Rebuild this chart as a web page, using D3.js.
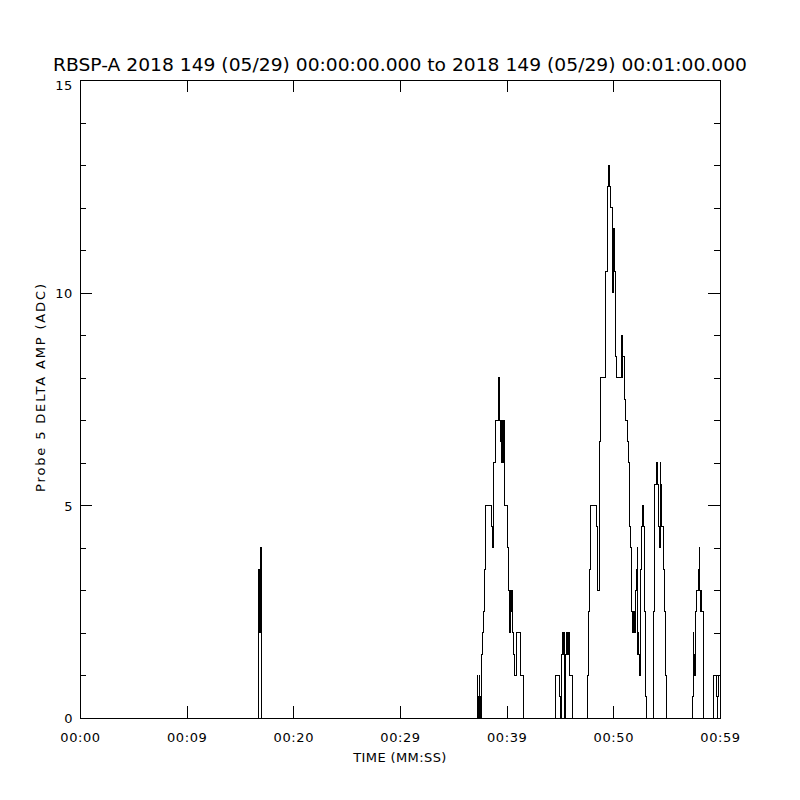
<!DOCTYPE html>
<html>
<head>
<meta charset="utf-8">
<script src="https://cdn.jsdelivr.net/npm/d3@7"></script>
<style>
  html, body { margin: 0; padding: 0; background: #fff; }
  text { font-family: "DejaVu Sans", sans-serif; fill: #000; }
</style>
</head>
<body>
<script>
// ********************************** //
// ** Data
// ********************************** //
const titleText = "RBSP-A 2018 149 (05/29) 00:00:00.000 to 2018 149 (05/29) 00:01:00.000";
const xLabelText = "TIME (MM:SS)";
const yLabelText = "Probe 5 DELTA AMP (ADC)";

// x ticks every 10 s, labels as printed on the plot
const xTickSeconds = [0, 10, 20, 30, 40, 50, 60];
const xTickLabels = ["00:00", "00:09", "00:20", "00:29", "00:39", "00:50", "00:59"];
const yMajorTicks = [0, 5, 10, 15];

// step series: seconds after 00:00:00 where the value changes, and the new value
const stepTimes = [
  0,
  16.69, 16.75, 16.78, 16.81, 16.85, 16.88, 16.90, 16.94, 16.97, 17.00,
  37.25, 37.28, 37.31, 37.34, 37.38, 37.41, 37.44, 37.47, 37.50, 37.53, 37.56, 37.59, 37.62, 37.66,
  37.75, 37.81, 37.90, 38.03, 38.60, 38.63, 38.65, 38.69, 38.75, 38.97,
  39.25, 39.28, 39.31, 39.34, 39.38, 39.40, 39.44, 39.47, 39.50, 39.53, 39.56, 39.59, 39.63, 39.66,
  39.69, 39.72, 39.75, 39.78, 39.84, 40.06, 40.19, 40.31, 40.38, 40.41, 40.44, 40.47, 40.50, 40.53,
  40.56, 40.62, 40.72, 40.94, 41.32, 41.56,
  44.56, 44.93, 45.00, 45.03, 45.06, 45.12, 45.22, 45.25, 45.28, 45.31, 45.34, 45.38, 45.40, 45.44,
  45.47, 45.63, 45.66, 45.69, 45.72, 45.75, 45.78, 45.81, 45.87, 46.19,
  47.60, 47.69, 47.81, 47.88, 48.44, 48.50, 48.69, 48.78, 49.22, 49.31, 49.43, 49.53, 49.62, 49.69,
  49.90, 49.94, 49.97, 50.00, 50.03, 50.06, 50.09, 50.13, 50.18, 50.25, 50.78, 50.81, 50.84, 50.88,
  51.00, 51.12, 51.31, 51.40, 51.50, 51.63, 51.72, 51.75, 51.78, 51.81, 51.84, 51.87, 51.91, 51.94,
  51.97, 52.00, 52.06, 52.13, 52.15, 52.19, 52.22, 52.25, 52.28, 52.31, 52.34, 52.38, 52.43, 52.50,
  52.62, 52.69, 52.81, 52.88, 52.94, 53.06, 53.13,
  53.75, 53.88, 54.00, 54.03, 54.06, 54.09, 54.12, 54.16, 54.22, 54.31, 54.38, 54.44, 54.56, 54.69,
  54.82, 54.87, 54.94,
  57.40, 57.50, 57.53, 57.56, 57.59, 57.63, 57.66, 57.69, 57.75, 57.97, 58.00, 58.03, 58.06, 58.09,
  58.13, 58.15, 58.19, 58.22, 58.25, 58.28, 58.31, 58.47,
  59.37, 59.69, 59.72, 59.75, 59.78, 59.81, 59.84, 60
];
const stepValues = [
  0,
  1, 3.5, 2, 3.5, 2, 3.5, 2, 4, 2, 0,
  1, 0, 0.5, 0, 0.5, 0, 1, 0, 0.5, 0, 0.5, 0, 0.5, 1.5,
  2, 2.5, 3.5, 5, 4.5, 4, 4.5, 4, 6, 7,
  8, 7, 8, 7, 6.5, 7, 6.5, 7, 6, 6.5, 7, 6.5, 6, 6.5,
  7, 6.5, 7, 6.5, 5, 4, 3, 2, 3, 2.5, 3, 2.5, 3, 2.5,
  2, 1.5, 1, 2, 1, 0,
  1, 0.5, 0, 0.5, 0, 1.5, 2, 1.5, 2, 1.5, 2, 0, 0.5, 0,
  1.5, 2, 1.5, 2, 1.5, 2, 1.5, 2, 1, 0,
  1, 2.5, 3.5, 5, 4.5, 3, 6.5, 8, 9.5, 10.5, 12.5, 13, 12.5, 12,
  10.5, 10, 11.5, 10.5, 11.5, 10.5, 11.5, 10.5, 8.5, 8, 9, 8, 9, 8.5,
  7.5, 7, 6.5, 6, 4.5, 4, 2.5, 2, 2.5, 2, 2.5, 2, 2.5, 2,
  2.5, 2, 3, 3.5, 3, 3.5, 3, 4, 2, 1.5, 2, 1.5, 1, 3.5,
  4.5, 5, 4.5, 3.5, 2.5, 0.5, 0,
  2.5, 5.5, 6, 5.5, 6, 5.5, 6, 5.5, 4.5, 4, 6, 5.5, 4.5, 3.5,
  2.5, 1, 0,
  0.5, 2, 1.5, 1, 1.5, 1, 1.5, 2.5, 3, 3.5, 3, 3.5, 4, 3,
  2.5, 3, 2.5, 3, 2.5, 3, 2.5, 0,
  1, 0.5, 0, 0.5, 0, 0.5, 1, 1
];

const onReady = () => {
  // ********************************** //
  // ** DOM
  // ********************************** //
  const width = 800;
  const height = 800;
  const left = 80, right = 720, top = 80, bottom = 718;

  const svg = d3
    .select("body")
    .append("svg")
    .attr("width", width)
    .attr("height", height);

  const x = d3.scaleLinear().domain([0, 60]).range([left, right]);
  const y = d3.scaleLinear().domain([0, 15]).range([bottom, top]);

  // ********************************** //
  // ** Axes
  // ********************************** //
  const xFormat = (d, i) => xTickLabels[i];
  const yMinorTicks = d3.range(0, 16).filter(v => v % 5 !== 0);

  const xBottom = svg
    .append("g")
    .attr("transform", `translate(0,${bottom})`)
    .call(
      d3.axisBottom(x)
        .tickValues(xTickSeconds)
        .tickFormat(xFormat)
        .tickSizeInner(-12)
        .tickSizeOuter(0)
        .tickPadding(15)
    );

  svg
    .append("g")
    .attr("transform", `translate(0,${top})`)
    .call(
      d3.axisTop(x)
        .tickValues(xTickSeconds)
        .tickFormat("")
        .tickSizeInner(-12)
        .tickSizeOuter(0)
    );

  const yLeft = svg
    .append("g")
    .attr("transform", `translate(${left},0)`)
    .call(
      d3.axisLeft(y)
        .tickValues(yMajorTicks)
        .tickFormat(d3.format("d"))
        .tickSizeInner(-12)
        .tickSizeOuter(0)
        .tickPadding(7)
    );

  svg
    .append("g")
    .attr("transform", `translate(${left},0)`)
    .call(
      d3.axisLeft(y)
        .tickValues(yMinorTicks)
        .tickFormat("")
        .tickSizeInner(-6)
        .tickSizeOuter(0)
    );

  svg
    .append("g")
    .attr("transform", `translate(${right},0)`)
    .call(
      d3.axisRight(y)
        .tickValues(yMajorTicks)
        .tickFormat("")
        .tickSizeInner(-12)
        .tickSizeOuter(0)
    );

  svg
    .append("g")
    .attr("transform", `translate(${right},0)`)
    .call(
      d3.axisRight(y)
        .tickValues(yMinorTicks)
        .tickFormat("")
        .tickSizeInner(-6)
        .tickSizeOuter(0)
    );

  // plain black axes, no domain paths (frame drawn below)
  svg.selectAll(".domain").remove();
  svg.selectAll(".tick line")
    .attr("stroke", "#000")
    .attr("shape-rendering", "crispEdges");
  svg.selectAll(".tick text")
    .attr("font-family", "DejaVu Sans, sans-serif")
    .attr("font-size", 13)
    .attr("letter-spacing", 0.6)
    .attr("fill", "#000");
  // top label sits a little below its tick, clear of the title
  yLeft.selectAll(".tick text").attr("dy", d => (d === 15 ? "0.75em" : "0.36em"));

  // frame
  svg
    .append("rect")
    .attr("x", left)
    .attr("y", top)
    .attr("width", right - left)
    .attr("height", bottom - top)
    .attr("fill", "none")
    .attr("stroke", "#000")
    .attr("shape-rendering", "crispEdges");

  // ********************************** //
  // ** Series
  // ********************************** //
  const points = stepTimes.map((t, i) => ({ t, v: stepValues[i] }));

  const line = d3
    .line()
    .x(d => x(d.t))
    .y(d => y(d.v))
    .curve(d3.curveStepAfter);

  svg
    .append("path")
    .datum(points)
    .attr("d", line)
    .attr("fill", "none")
    .attr("stroke", "#000")
    .attr("stroke-width", 1)
    .attr("shape-rendering", "crispEdges");

  // ********************************** //
  // ** Labels
  // ********************************** //
  svg
    .append("text")
    .attr("x", 400)
    .attr("y", 71)
    .attr("text-anchor", "middle")
    .attr("font-size", 18)
    .attr("textLength", 694)
    .attr("lengthAdjust", "spacingAndGlyphs")
    .text(titleText);

  svg
    .append("text")
    .attr("x", 400)
    .attr("y", 762)
    .attr("text-anchor", "middle")
    .attr("font-size", 13)
    .attr("letter-spacing", 0.4)
    .text(xLabelText);

  svg
    .append("text")
    .attr("transform", "translate(45,388) rotate(-90)")
    .attr("text-anchor", "middle")
    .attr("font-size", 13)
    .attr("textLength", 208)
    .attr("lengthAdjust", "spacing")
    .text(yLabelText);
};
document.addEventListener("DOMContentLoaded", onReady);
</script>
</body>
</html>
